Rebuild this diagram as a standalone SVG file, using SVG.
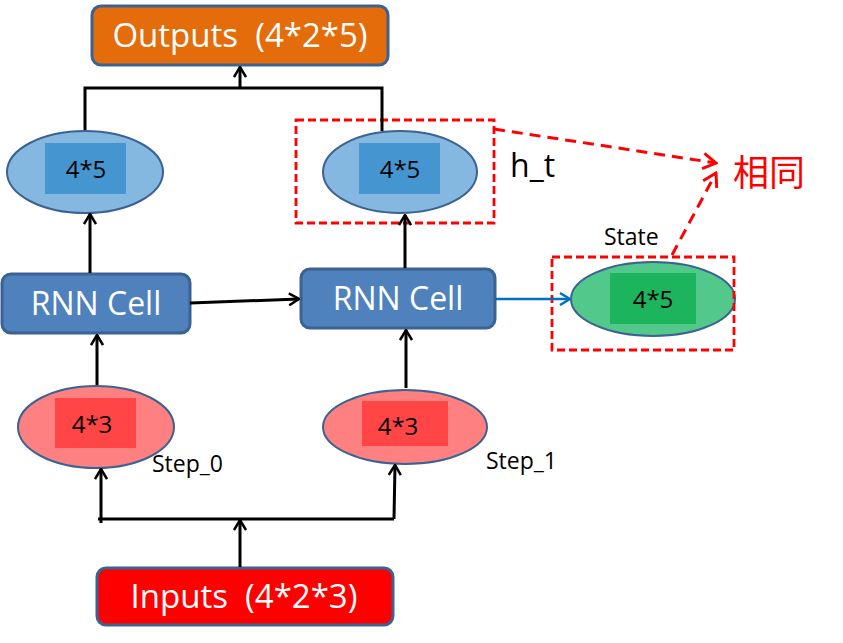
<svg xmlns="http://www.w3.org/2000/svg" width="843" height="643" viewBox="0 0 843 643">
<style>
.box{stroke:#3B6292;stroke-width:3}
.ell{stroke:#3B6292;stroke-width:2}
.wt{fill:#fff;font-family:"Open Sans","Liberation Sans",sans-serif;text-anchor:middle;white-space:pre}
.bt{fill:#000;font-family:"Open Sans","Liberation Sans",sans-serif}
.num{fill:#000;font-family:"Open Sans","Liberation Sans",sans-serif;font-size:24px;text-anchor:middle}
.ln{fill:none;stroke:#000;stroke-width:3}
.dash{fill:none;stroke:#FF0000;stroke-width:2.8;stroke-dasharray:8 4}
.dashA{fill:none;stroke:#FF0000;stroke-width:3;stroke-dasharray:11 7}
</style>
<defs>
<marker id="ah" viewBox="0 0 12 14" refX="11" refY="7" markerWidth="12" markerHeight="14" markerUnits="userSpaceOnUse" orient="auto">
<path d="M1,1 L11,7 L1,13" fill="none" stroke="#000" stroke-width="2.5"/>
</marker>
<marker id="ahb" viewBox="0 0 12 14" refX="11" refY="7" markerWidth="12" markerHeight="14" markerUnits="userSpaceOnUse" orient="auto">
<path d="M1,1 L11,7 L1,13" fill="none" stroke="#0070C0" stroke-width="2.5"/>
</marker>
<marker id="ahr" viewBox="0 0 12 14" refX="11" refY="7" markerWidth="16" markerHeight="18" markerUnits="userSpaceOnUse" orient="auto">
<path d="M1,1 L11,7 L1,13" fill="none" stroke="#FF0000" stroke-width="2.3"/>
</marker>
</defs>

<g id="outputs">
<rect class="box" x="92" y="6" width="296" height="59" rx="9" fill="#E46C0A"/>
<text class="wt" x="240" y="47" font-size="33" xml:space="preserve">Outputs  (4*2*5)</text>
</g>

<g id="ht0">
<ellipse class="ell" cx="85" cy="172" rx="78" ry="41" fill="#85B8E0"/>
<rect x="45" y="143" width="81" height="51" fill="#4596D0"/>
<text class="num" x="86" y="178">4*5</text>
</g>

<g id="ht1">
<ellipse class="ell" cx="400" cy="172" rx="77" ry="41" fill="#85B8E0"/>
<rect x="359" y="143" width="81" height="51" fill="#4596D0"/>
<text class="num" x="400" y="178">4*5</text>
</g>

<g id="rnn0">
<rect class="box" x="2" y="274" width="188" height="59" rx="9" fill="#4F81BD"/>
<text class="wt" x="96" y="315" font-size="32">RNN Cell</text>
</g>

<g id="rnn1">
<rect class="box" x="301" y="269" width="194" height="59" rx="9" fill="#4F81BD"/>
<text class="wt" x="398" y="310" font-size="32">RNN Cell</text>
</g>

<g id="state">
<ellipse class="ell" cx="653" cy="299" rx="82" ry="37" fill="#52C98A"/>
<rect x="610" y="273" width="86" height="51" fill="#1DB45E"/>
<text class="num" x="653" y="308">4*5</text>
</g>

<g id="x0">
<ellipse class="ell" cx="96" cy="427" rx="78" ry="41" fill="#FF8080"/>
<rect x="55" y="398" width="81" height="50" fill="#FF4545"/>
<text class="num" x="92" y="433">4*3</text>
</g>

<g id="x1">
<ellipse class="ell" cx="405" cy="427" rx="82" ry="37" fill="#FF8080"/>
<rect x="362" y="401" width="86" height="45" fill="#FF4545"/>
<text class="num" x="398" y="435">4*3</text>
</g>

<g id="inputs">
<rect class="box" x="97" y="568" width="296" height="57" rx="9" fill="#FF0000"/>
<text class="wt" x="244" y="608" font-size="33" xml:space="preserve">Inputs  (4*2*3)</text>
</g>

<g id="labels">
<text class="bt" x="510" y="177" font-size="32">h_t</text>
<text class="bt" x="604" y="245" font-size="23">State</text>
<text class="bt" x="152" y="472" font-size="23">Step_0</text>
<text class="bt" x="486" y="469" font-size="23">Step_1</text>
<text x="733" y="186" font-size="36" fill="#FF0000" font-family="'Noto Sans CJK SC',sans-serif">相同</text>
</g>

<g id="highlights">
<rect class="dash" x="296" y="120" width="198" height="103"/>
<rect class="dash" x="552" y="257" width="182" height="93"/>
</g>

<g id="connectors">
<path class="ln" d="M85,130 V88 H382 V131"/>
<path class="ln" d="M240,88 V67" marker-end="url(#ah)"/>
<path class="ln" d="M90,273 V214" marker-end="url(#ah)"/>
<path class="ln" d="M405,268 V215" marker-end="url(#ah)"/>
<path class="ln" d="M190,303 L299,299" marker-end="url(#ah)"/>
<path d="M495,299 H570" fill="none" stroke="#0070C0" stroke-width="2.5" marker-end="url(#ahb)"/>
<path class="ln" d="M97,385 V335" marker-end="url(#ah)"/>
<path class="ln" d="M406,388 V330" marker-end="url(#ah)"/>
<path class="ln" d="M98,519 H394"/>
<path class="ln" d="M101,523 L101,469" marker-end="url(#ah)"/>
<path class="ln" d="M394,519 L395,465" marker-end="url(#ah)"/>
<path class="ln" d="M240,567 V520" marker-end="url(#ah)"/>
<path class="dashA" d="M494,129 L716,163" marker-end="url(#ahr)"/>
<path class="dashA" d="M672,255 L716,173" marker-end="url(#ahr)"/>
</g>
</svg>
